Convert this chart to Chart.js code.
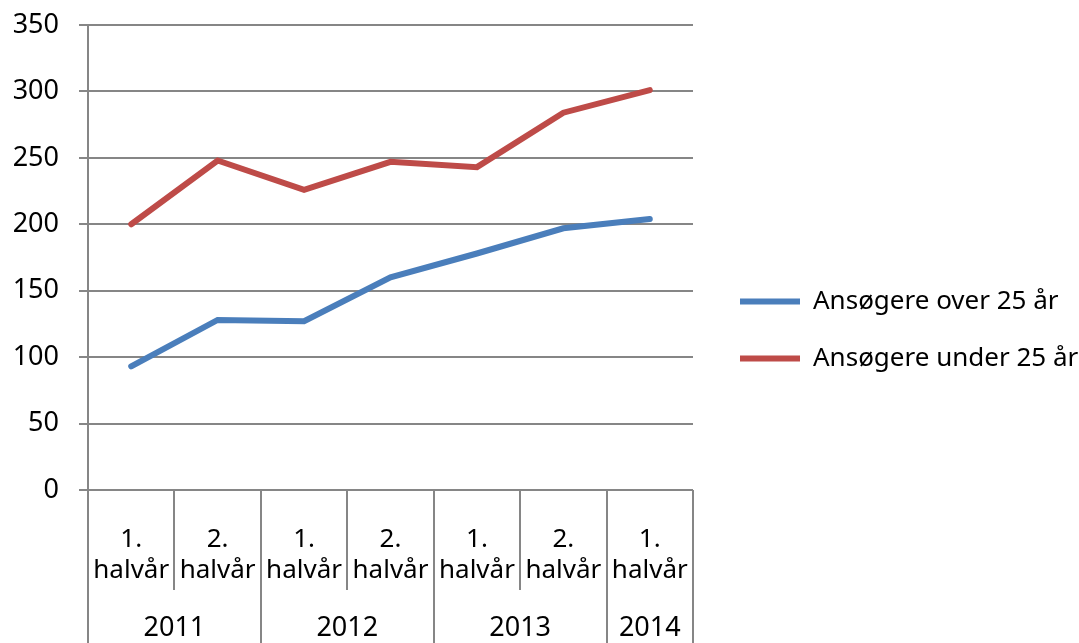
<!DOCTYPE html>
<html>
<head>
<meta charset="utf-8">
<script src="https://cdn.jsdelivr.net/npm/chart.js@4.4.0/dist/chart.umd.min.js"></script>
<style>
  html, body { margin: 0; background: #fff; }
  #wrap { width: 1079px; height: 643px; }
</style>
</head>
<body>
<div id="wrap"><canvas id="chart"></canvas></div>
<script>
// data
const halfYears = [['1.', 'halvår'], ['2.', 'halvår'], ['1.', 'halvår'], ['2.', 'halvår'],
                   ['1.', 'halvår'], ['2.', 'halvår'], ['1.', 'halvår']];
const years     = ['2011', '2012', '2013', '2014'];
const yearSpan  = [2, 2, 2, 1];
const over25    = [93, 128, 127, 160, 178, 197, 204];
const under25   = [200, 248, 226, 247, 243, 284, 301];

const FONT = 'Noto Sans';
const GRID = '#868686';

// year row and separators under the x axis
const yearRow = {
  id: 'yearRow',
  afterDraw(chart) {
    const x = chart.scales.x;
    const ctx = chart.ctx;
    const top = chart.chartArea.bottom;
    const full = chart.height;
    const bounds = [0];
    yearSpan.forEach(n => bounds.push(bounds[bounds.length - 1] + n));
    ctx.save();
    ctx.strokeStyle = GRID;
    ctx.lineWidth = 2;
    for (let b = 0; b <= halfYears.length; b++) {
      const px = Math.round(x.getPixelForValue(b - 0.5));
      const bottom = bounds.includes(b) ? full : top + 100;
      ctx.beginPath();
      ctx.moveTo(px, top);
      ctx.lineTo(px, bottom);
      ctx.stroke();
    }
    ctx.fillStyle = '#000';
    ctx.font = `27px "${FONT}"`;
    ctx.textAlign = 'center';
    ctx.textBaseline = 'middle';
    years.forEach((y, i) => {
      const a = x.getPixelForValue(bounds[i] - 0.5);
      const b = x.getPixelForValue(bounds[i + 1] - 0.5);
      ctx.fillText(y, (a + b) / 2, top + 138);
    });
    ctx.restore();
  }
};

const ctx = document.getElementById('chart').getContext('2d');
new Chart(ctx, {
  type: 'line',
  data: {
    labels: halfYears,
    datasets: [
      {
        label: 'Ansøgere over 25 år',
        data: over25,
        borderColor: '#4A7EBB',
        backgroundColor: '#4A7EBB',
        borderWidth: 6,
        borderCapStyle: 'round',
        pointRadius: 0,
        tension: 0
      },
      {
        label: 'Ansøgere under 25 år',
        data: under25,
        borderColor: '#BE4B48',
        backgroundColor: '#BE4B48',
        borderWidth: 6,
        borderCapStyle: 'round',
        pointRadius: 0,
        tension: 0
      }
    ]
  },
  options: {
    responsive: true,
    maintainAspectRatio: false,
    animation: false,
    layout: { autoPadding: false, padding: { left: 0, top: 17, right: 0, bottom: 0 } },
    plugins: {
      tooltip: { enabled: false },
      legend: {
        position: 'right',
        maxWidth: 370,
        labels: {
          usePointStyle: true,
          pointStyle: 'line',
          pointStyleWidth: 60,
          color: '#000',
          font: { family: FONT, size: 26 },
          padding: 31
        }
      }
    },
    scales: {
      x: {
        offset: true,
        grid: { display: false, drawTicks: false },
        border: { display: false },
        ticks: {
          color: '#000',
          font: { family: FONT, size: 26 },
          padding: 34,
          maxRotation: 0,
          autoSkip: false
        },
        afterFit(s) { s.height = 153; s.paddingLeft = 0; s.paddingRight = 0; }
      },
      y: {
        min: 0,
        max: 350,
        ticks: {
          stepSize: 50,
          color: '#000',
          font: { family: FONT, size: 27 },
          padding: 20
        },
        grid: { color: GRID, lineWidth: 2, tickLength: 9 },
        border: { color: GRID, width: 2 },
        afterFit(s) { s.width = 88; s.paddingTop = 25; s.paddingBottom = 0; }
      },
      gap: {
        type: 'linear',
        position: 'right',
        display: true,
        grid: { display: false },
        border: { display: false },
        ticks: { display: false },
        afterFit(s) { s.width = 16; s.paddingTop = 0; s.paddingBottom = 0; }
      }
    }
  },
  plugins: [yearRow]
});
</script>
</body>
</html>
